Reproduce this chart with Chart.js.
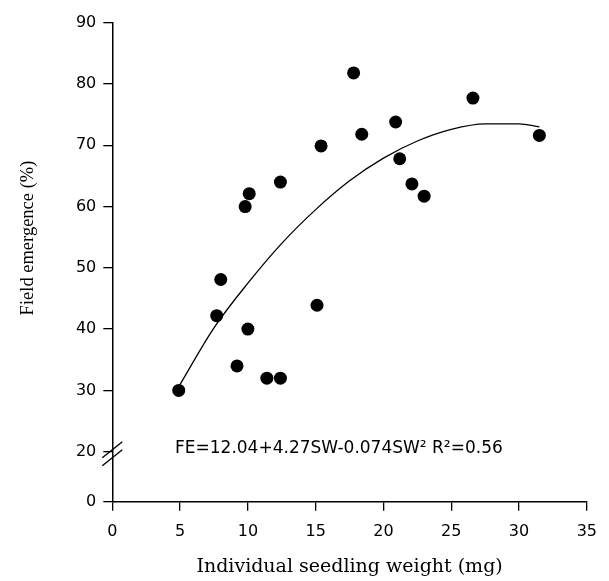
<!DOCTYPE html>
<html><head><meta charset="utf-8">
<script src="https://cdn.jsdelivr.net/npm/chart.js@4.4.1/dist/chart.umd.min.js"></script>
<style>html,body{margin:0;padding:0;background:#fff;}canvas{display:block;}</style>
</head><body>
<canvas id="c" width="609" height="581"></canvas>
<script>
// ---- data ----
const seedlingWeight = [4.9, 7.7, 8.0, 9.2, 9.8, 10.0, 10.1, 11.4, 12.4, 12.4, 15.1, 15.4, 17.8, 18.4, 20.9, 21.2, 22.1, 23.0, 26.6, 31.5];
const fieldEmergence = [30.0, 42.2, 48.1, 34.0, 60.0, 40.0, 62.1, 32.0, 32.0, 64.0, 43.9, 69.9, 81.8, 71.8, 73.8, 67.8, 63.7, 61.7, 77.7, 71.6];
const curveWeight = [4.9, 7.5, 10, 12.5, 15, 17.5, 20, 22.5, 25, 27.5, 30, 31.5];
const curveEmergence = [30.6, 40.2, 47.5, 54.0, 59.5, 64.2, 67.9, 70.7, 72.6, 73.5, 73.5, 73.0];
const xTicks = [0, 5, 10, 15, 20, 25, 30, 35];
const yTicks = [0, 20, 30, 40, 50, 60, 70, 80, 90];
const equationText = 'FE=12.04+4.27SW-0.074SW\u00B2 R\u00B2=0.56';
const xTitle = 'Individual seedling weight (mg)';
const yTitle = 'Field emergence (%)';

// broken y axis: the 0-20 span is drawn compressed
const BREAK_AT = 20;
const BREAK_SCALE = 0.408;
function toAxis(v) { return v >= BREAK_AT ? v : BREAK_AT - (BREAK_AT - v) * BREAK_SCALE; }

const pts = seedlingWeight.map((x, i) => ({x: x, y: toAxis(fieldEmergence[i])}));
const curve = curveWeight.map((x, i) => ({x: x, y: toAxis(curveEmergence[i])}));

const TICK_FONT = {family: 'DejaVu Sans', size: 16};

const bgPlugin = {
  id: 'bg',
  beforeDraw(chart) {
    const c = chart.ctx; c.save(); c.fillStyle = '#fff';
    c.fillRect(0, 0, chart.width, chart.height); c.restore();
  }
};
const extrasPlugin = {
  id: 'extras',
  afterDraw(chart) {
    const c = chart.ctx, ys = chart.scales.y, ca = chart.chartArea;
    c.save();
    // y title
    c.fillStyle = '#000';
    c.font = '18.5px "Liberation Serif"';
    c.textAlign = 'center'; c.textBaseline = 'middle';
    c.translate(28, 238); c.rotate(-Math.PI / 2);
    c.fillText(yTitle, 0, 0);
    c.restore();
    // equation
    c.save();
    c.fillStyle = '#000';
    c.font = '17px "DejaVu Sans"';
    c.textAlign = 'left'; c.textBaseline = 'alphabetic';
    c.fillText(equationText, 175, 453);
    c.restore();
    // axis break marks
    const yb = ys.getPixelForValue(toAxis(BREAK_AT));
    const x0 = ca.left;
    c.save();
    c.strokeStyle = '#000'; c.lineWidth = 1.4;
    [-2, 6].forEach(d => {
      c.beginPath();
      c.moveTo(x0 - 10, yb + d + 8);
      c.lineTo(x0 + 10, yb + d - 8);
      c.stroke();
    });
    c.restore();
  }
};

new Chart(document.getElementById('c'), {
  type: 'scatter',
  data: {
    datasets: [
      {data: curve, showLine: true, borderColor: '#000', borderWidth: 1.3, pointRadius: 0, tension: 0.4, cubicInterpolationMode: 'monotone', fill: false},
      {data: pts, backgroundColor: '#000', borderColor: '#000', borderWidth: 0, pointRadius: 6.5}
    ]
  },
  options: {
    responsive: false,
    animation: false,
    devicePixelRatio: 1,
    layout: {padding: {left: 0, top: 22.7, right: 11.3, bottom: 0}},
    plugins: {legend: {display: false}, tooltip: {enabled: false}},
    scales: {
      x: {
        type: 'linear', min: 0, max: 35,
        afterBuildTicks: s => { s.ticks = xTicks.map(v => ({value: v})); },
        afterFit: s => { s.height = 79.3; },
        ticks: {color: '#000', font: TICK_FONT, padding: 12, maxRotation: 0},
        grid: {drawOnChartArea: false, drawTicks: true, tickLength: 9, color: '#000', lineWidth: 1.3},
        border: {display: true, color: '#000', width: 1.5},
        title: {display: true, text: xTitle, color: '#000', font: {family: 'DejaVu Serif', size: 19}, padding: {top: 0, bottom: 3}}
      },
      y: {
        type: 'linear', min: toAxis(0), max: 90,
        afterBuildTicks: s => { s.ticks = yTicks.map(v => ({value: toAxis(v)})); },
        afterFit: s => { s.width = 112.3; },
        ticks: {
          color: '#000', font: TICK_FONT, padding: 7,
          callback: (val) => { const k = yTicks.find(v => Math.abs(toAxis(v) - val) < 1e-6); return k === undefined ? '' : String(k); }
        },
        grid: {drawOnChartArea: false, drawTicks: true, tickLength: 9, color: '#000', lineWidth: 1.3},
        border: {display: true, color: '#000', width: 1.5}
      }
    }
  },
  plugins: [bgPlugin, extrasPlugin]
});
</script>
</body></html>
